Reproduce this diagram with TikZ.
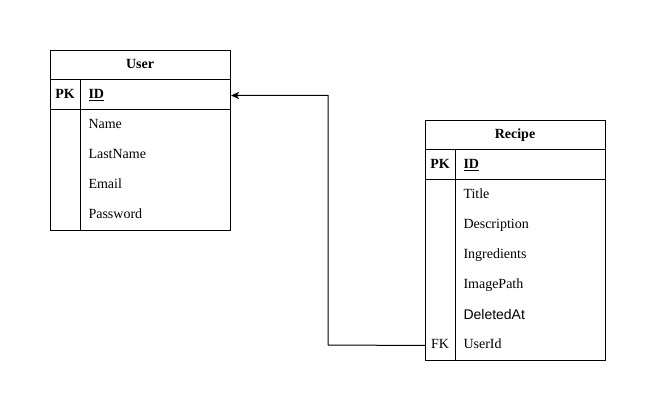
\documentclass[tikz,border=0pt]{standalone}
\usepackage{fontspec}
\setmainfont{Liberation Serif}
\newfontfamily\sansf{Liberation Sans}
\usetikzlibrary{arrows.meta}
\begin{document}
\begin{tikzpicture}[x=1pt,y=-1pt,line width=1pt,
  font=\fontsize{14}{16}\selectfont,
  tbl/.style={draw,anchor=north west,inner sep=0pt,minimum width=180pt},
  row/.style={anchor=north west,inner sep=0pt,minimum width=180pt,minimum height=30pt},
  title/.style={font=\fontsize{14}{16}\selectfont\bfseries,inner sep=0pt,anchor=base},
  key/.style={inner sep=0pt,anchor=base},
  field/.style={inner sep=0pt,anchor=base west}]
\useasboundingbox[fill=white] (0,0) rectangle (656,411);
% User table
\node[tbl,minimum height=180pt] (user) at (50,50) {};
\node[row] (userpk) at (50,80) {};
\draw (50,80) -- (230,80);
\draw (50,110) -- (230,110);
\draw (80,80) -- (80,230);
\node[title] (userT) at (140,69) {User};
\node[key,font=\fontsize{14}{16}\selectfont\bfseries] (userPK) at (65,99) {PK};
\node[field,font=\fontsize{14}{16}\selectfont\bfseries] (userID) at (88,99) {\underline{ID}};
\node[field] (uName) at (88,129) {Name};
\node[field] (uLast) at (88,159) {LastName};
\node[field] (uEmail) at (88,189) {Email};
\node[field] (uPass) at (88,219) {Password};
% Recipe table
\node[tbl,minimum height=240pt] (recipe) at (425,120) {};
\node[row] (recfk) at (425,330) {};
\draw (425,150) -- (605,150);
\draw (425,180) -- (605,180);
\draw (455,150) -- (455,360);
\node[title] (recT) at (515,139) {Recipe};
\node[key,font=\fontsize{14}{16}\selectfont\bfseries] (recPK) at (440,169) {PK};
\node[field,font=\fontsize{14}{16}\selectfont\bfseries] (recID) at (463,169) {\underline{ID}};
\node[field] (rTitle) at (463,199) {Title};
\node[field] (rDesc) at (463,229) {Description};
\node[field] (rIngr) at (463,259) {Ingredients};
\node[field] (rImg) at (463,289) {ImagePath};
\node[field,font=\fontsize{14}{16}\selectfont\sansf] (rDel) at (463,320) {DeletedAt};
\node[key] (rFK) at (440,349) {FK};
\node[field] (rUser) at (463,349) {UserId};
% connector
\coordinate (bend) at (328,345);
\draw[-{Stealth[length=8pt,width=7pt,inset=2pt]}] (recfk.west) -- (bend) |- (userpk.east);
\end{tikzpicture}
\end{document}
